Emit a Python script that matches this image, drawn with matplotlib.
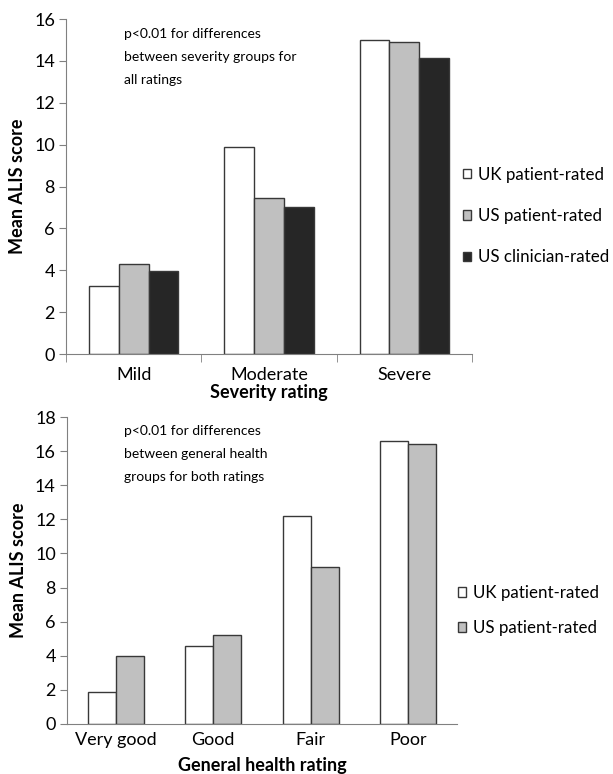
import matplotlib.pyplot as plt
import numpy as np

# top panel: severity
sev_cats = ['Mild', 'Moderate', 'Severe']
uk_pat_sev = [3.25, 9.9, 15.0]
us_pat_sev = [4.3, 7.45, 14.9]
us_clin_sev = [3.95, 7.0, 14.15]

# bottom panel: general health
gh_cats = ['Very good', 'Good', 'Fair', 'Poor']
uk_pat_gh = [1.9, 4.55, 12.2, 16.6]
us_pat_gh = [4.0, 5.2, 9.2, 16.4]

series_names = ['UK patient-rated', 'US patient-rated', 'US clinician-rated']
cols = ['white', '#c0c0c0', '#262626']

plt.rcParams['font.family'] = ['Lato', 'DejaVu Sans']

fig = plt.figure(figsize=(6.13, 7.74), dpi=100)
ax1 = fig.add_axes([0.1077, 0.5426, 0.6623, 0.4328])
ax2 = fig.add_axes([0.1093, 0.0646, 0.6362, 0.3966])

def style(ax):
    for s in ['top', 'right']:
        ax.spines[s].set_visible(False)
    for s in ['left', 'bottom']:
        ax.spines[s].set_color('#808080')
    ax.tick_params(axis='y', labelsize=13, color='#808080', length=5, pad=3)
    ax.tick_params(axis='x', labelsize=13, length=0, pad=6)
    ax.set_ylabel('Mean ALIS score', fontsize=13, fontweight='bold', labelpad=6)

leg_kw = dict(frameon=False, fontsize=12.2, handlelength=0.5, handleheight=0.5,
              handletextpad=0.4, borderaxespad=0, borderpad=0)

# top chart
x = np.arange(len(sev_cats))
w = 0.22
for i, vals in enumerate([uk_pat_sev, us_pat_sev, us_clin_sev]):
    ax1.bar(x + (i - 1) * w, vals, w, color=cols[i], edgecolor='#383838',
            linewidth=1, label=series_names[i])
ax1.set_xlim(-0.5, 2.5)
ax1.set_ylim(0, 16)
ax1.set_yticks(range(0, 17, 2))
ax1.set_xticks(x)
ax1.set_xticklabels(sev_cats)
style(ax1)
ax1.tick_params(axis='x', pad=9)
ax1.set_xticks([-0.5, 0.5, 1.5, 2.5], minor=True)
ax1.tick_params(axis='x', which='minor', length=6, color='#808080')
ax1.set_xlabel('Severity rating', fontsize=13, fontweight='bold', labelpad=1)
fig.text(124 / 613, 1 - 28 / 774, 'p<0.01 for differences\nbetween severity groups for\nall ratings',
         fontsize=10, va='top', linespacing=2.1)
ax1.legend(loc='center left', bbox_to_anchor=(463 / 613, 1 - 216 / 774),
           bbox_transform=fig.transFigure, labelspacing=1.5, **leg_kw)

# bottom chart
x2 = np.arange(len(gh_cats))
w2 = 0.287
for i, vals in enumerate([uk_pat_gh, us_pat_gh]):
    ax2.bar(x2 + (i - 0.5) * w2, vals, w2, color=cols[i], edgecolor='#383838',
            linewidth=1, label=series_names[i])
ax2.set_xlim(-0.5, 3.5)
ax2.set_ylim(0, 18)
ax2.set_yticks(range(0, 19, 2))
ax2.set_xticks(x2)
ax2.set_xticklabels(gh_cats)
style(ax2)
ax2.set_xlabel('General health rating', fontsize=13, fontweight='bold', labelpad=6)
fig.text(124 / 613, 1 - 425 / 774, 'p<0.01 for differences\nbetween general health\ngroups for both ratings',
         fontsize=10, va='top', linespacing=2.1)
ax2.legend(loc='center left', bbox_to_anchor=(458 / 613, 1 - 610.5 / 774),
           bbox_transform=fig.transFigure, labelspacing=1.15, **leg_kw)

fig.savefig('out.png', dpi=100)
